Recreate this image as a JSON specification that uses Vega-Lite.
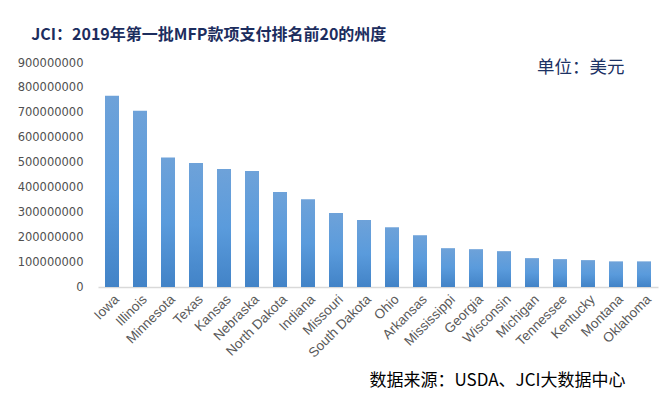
{
  "$schema": "https://vega.github.io/schema/vega-lite/v6.json",
  "autosize": {"type": "none"},
  "width": 560,
  "height": 224,
  "padding": {"left": 98, "top": 63, "right": 12, "bottom": 108},
  "background": "white",
  "title": {
    "text": "JCI：2019年第一批MFP款项支付排名前20的州度",
    "anchor": "start",
    "frame": "bounds",
    "dx": 14,
    "offset": 14,
    "font": "Noto Sans CJK SC",
    "fontSize": 16,
    "fontWeight": "bold",
    "color": "#1C2D5E"
  },
  "data": {
    "values": [
      {"state": "Iowa", "amount": 768000000},
      {"state": "Illinois", "amount": 708000000},
      {"state": "Minnesota", "amount": 520000000},
      {"state": "Texas", "amount": 498000000},
      {"state": "Kansas", "amount": 474000000},
      {"state": "Nebraska", "amount": 466000000},
      {"state": "North Dakota", "amount": 382000000},
      {"state": "Indiana", "amount": 353000000},
      {"state": "Missouri", "amount": 297000000},
      {"state": "South Dakota", "amount": 269000000},
      {"state": "Ohio", "amount": 240000000},
      {"state": "Arkansas", "amount": 208000000},
      {"state": "Mississippi", "amount": 156000000},
      {"state": "Georgia", "amount": 152000000},
      {"state": "Wisconsin", "amount": 144000000},
      {"state": "Michigan", "amount": 116000000},
      {"state": "Tennessee", "amount": 112000000},
      {"state": "Kentucky", "amount": 108000000},
      {"state": "Montana", "amount": 103000000},
      {"state": "Oklahoma", "amount": 103000000}
    ]
  },
  "mark": {
    "type": "bar",
    "color": {
      "gradient": "linear",
      "x1": 0, "y1": 0, "x2": 0, "y2": 1,
      "stops": [
        {"offset": 0, "color": "#6EA2D9"},
        {"offset": 0.5, "color": "#5A9BDC"},
        {"offset": 1, "color": "#4283C7"}
      ]
    }
  },
  "encoding": {
    "x": {
      "field": "state",
      "type": "nominal",
      "sort": null,
      "scale": {"paddingInner": 0.5, "paddingOuter": 0.25},
      "axis": {
        "title": "数据来源：USDA、JCI大数据中心",
        "titleFont": "Noto Sans CJK SC",
        "titleFontSize": 17,
        "titleFontWeight": "normal",
        "titleColor": "#000000",
        "titleAlign": "right",
        "titleBaseline": "middle",
        "titleX": 527,
        "titleY": 93,
        "labelAngle": -45,
        "labelFont": "Liberation Sans",
        "labelFontSize": 13.5,
        "labelColor": "#595959",
        "labelPadding": 5,
        "ticks": false,
        "domainColor": "#D9D9D9",
        "domainWidth": 1.5
      }
    },
    "y": {
      "field": "amount",
      "type": "quantitative",
      "scale": {"domain": [0, 900000000], "nice": false},
      "axis": {
        "values": [0, 100000000, 200000000, 300000000, 400000000, 500000000, 600000000, 700000000, 800000000, 900000000],
        "format": "d",
        "title": "单位：美元",
        "titleFont": "Noto Sans CJK SC",
        "titleFontSize": 17.5,
        "titleFontWeight": "normal",
        "titleColor": "#1C3264",
        "titleAngle": 0,
        "titleAlign": "right",
        "titleBaseline": "middle",
        "titleX": 526,
        "titleY": 4,
        "labelFont": "DejaVu Sans",
        "labelFontSize": 11.5,
        "labelColor": "#505050",
        "labelPadding": 15,
        "ticks": false,
        "domain": false,
        "grid": false
      }
    }
  },
  "config": {"view": {"stroke": null}}
}
